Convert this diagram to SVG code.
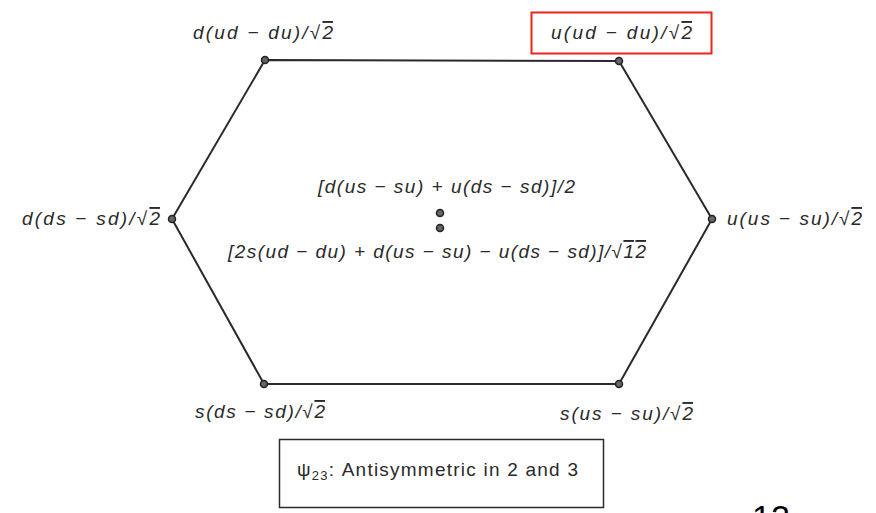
<svg xmlns="http://www.w3.org/2000/svg" width="876" height="513" viewBox="0 0 876 513">
<style>
.m{font-family:"Liberation Sans","DejaVu Sans",sans-serif;font-style:italic;font-size:19px;fill:#2a2a2a}
.r{text-decoration:overline}
.t{font-family:"Liberation Sans","DejaVu Sans",sans-serif;font-size:19px;fill:#2a2a2a}
.v{fill:#666;stroke:#222;stroke-width:1.5}
</style>
<rect width="876" height="513" fill="#fff"/>
<g id="connectors" fill="none" stroke="#2a2a2a" stroke-width="2">
<polygon points="265,60 619,61 712,219 619,384 264,384 172,219"/>
</g>
<g id="n-top-left"><circle class="v" cx="265" cy="60" r="3.5"/><text class="m" x="193" y="39" textLength="140" lengthAdjust="spacing">d(ud − du)/√<tspan class="r">2</tspan></text></g>
<g id="n-top-right"><circle class="v" cx="619" cy="61" r="3.5"/><rect x="531.5" y="12.5" width="180" height="41" fill="none" stroke="#e8261a" stroke-width="2"/><text class="m" x="551" y="39" textLength="141" lengthAdjust="spacing">u(ud − du)/√<tspan class="r">2</tspan></text></g>
<g id="n-left"><circle class="v" cx="172" cy="219" r="3.5"/><text class="m" x="22" y="225" textLength="138" lengthAdjust="spacing">d(ds − sd)/√<tspan class="r">2</tspan></text></g>
<g id="n-right"><circle class="v" cx="712" cy="219" r="3.5"/><text class="m" x="727" y="225" textLength="135" lengthAdjust="spacing">u(us − su)/√<tspan class="r">2</tspan></text></g>
<g id="n-bottom-left"><circle class="v" cx="264" cy="384" r="3.5"/><text class="m" x="195" y="418" textLength="130" lengthAdjust="spacing">s(ds − sd)/√<tspan class="r">2</tspan></text></g>
<g id="n-bottom-right"><circle class="v" cx="619" cy="384" r="3.5"/><text class="m" x="560" y="420" textLength="133" lengthAdjust="spacing">s(us − su)/√<tspan class="r">2</tspan></text></g>
<g id="n-center">
<text class="m" x="318" y="193" textLength="257" lengthAdjust="spacing">[d(us − su) + u(ds − sd)]/2</text>
<circle class="v" cx="440" cy="213" r="3.5"/><circle class="v" cx="440" cy="228" r="3.5"/>
<text class="m" x="228" y="258" textLength="418" lengthAdjust="spacing">[2s(ud − du) + d(us − su) − u(ds − sd)]/√<tspan class="r">12</tspan></text>
</g>
<g id="n-caption">
<rect x="279.5" y="439.5" width="324" height="68" fill="none" stroke="#2a2a2a" stroke-width="1.5"/>
<text class="t" x="297" y="476" textLength="281" lengthAdjust="spacing">ψ<tspan font-size="13" dy="4">23</tspan><tspan dy="-4">: Antisymmetric in 2 and 3</tspan></text>
</g>
<text x="752" y="529" font-family="Liberation Sans,sans-serif" font-size="34" fill="#000">12</text>
</svg>
